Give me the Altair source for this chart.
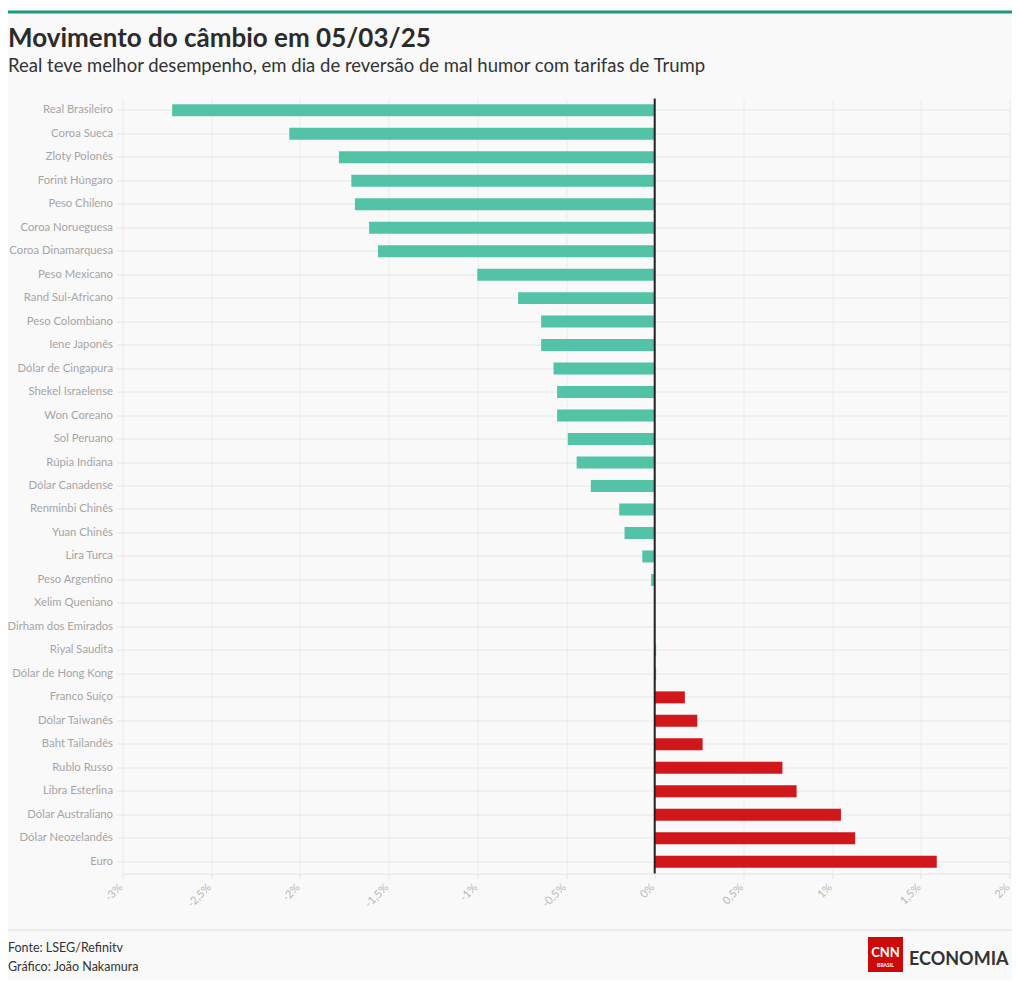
import altair as alt
import pandas as pd

# ---------------- data ----------------
moedas = [
    "Real Brasileiro", "Coroa Sueca", "Zloty Polonês", "Forint Húngaro", "Peso Chileno",
    "Coroa Norueguesa", "Coroa Dinamarquesa", "Peso Mexicano", "Rand Sul-Africano",
    "Peso Colombiano", "Iene Japonês", "Dólar de Cingapura", "Shekel Israelense",
    "Won Coreano", "Sol Peruano", "Rúpia Indiana", "Dólar Canadense", "Renminbi Chinês",
    "Yuan Chinês", "Lira Turca", "Peso Argentino", "Xelim Queniano", "Dirham dos Emirados",
    "Riyal Saudita", "Dólar de Hong Kong", "Franco Suíço", "Dólar Taiwanês",
    "Baht Tailandês", "Rublo Russo", "Libra Esterlina", "Dólar Australiano",
    "Dólar Neozelandês", "Euro",
]
variacao = [
    -2.72, -2.06, -1.78, -1.71, -1.69, -1.61, -1.56, -1.00, -0.77, -0.64, -0.64,
    -0.57, -0.55, -0.55, -0.49, -0.44, -0.36, -0.20, -0.17, -0.07, -0.02, 0.0, 0.0,
    0.008, 0.008, 0.17, 0.24, 0.27, 0.72, 0.80, 1.05, 1.13, 1.59,
]
grupo = ["valorizou"] * 25 + ["desvalorizou"] * 8
x_ticks = [-3, -2.5, -2, -1.5, -1, -0.5, 0, 0.5, 1, 1.5, 2]

titulo = "Movimento do câmbio em 05/03/25"
subtitulo = "Real teve melhor desempenho, em dia de reversão de mal humor com tarifas de Trump"
fonte = "Fonte: LSEG/Refinitv"
grafico = "Gráfico: João Nakamura"

df = pd.DataFrame({"moeda": moedas, "variacao": variacao, "grupo": grupo})

FONT = "Lato"
W, H = 887, 775
PL, PT = 114.5, 90.5   # plot origin relative to svg origin
TOTAL_W, TOTAL_H = 1004, 972

x_enc = alt.X(
    "variacao:Q", title=None,
    scale=alt.Scale(domain=[-3, 2], nice=False, zero=False),
    axis=alt.Axis(
        values=x_ticks, labelAngle=-45, labelAlign="right", labelBaseline="middle",
        labelExpr="(datum.value < 0 ? '-' : '') + replace(format(abs(datum.value), '~g'), '.', ',') + '%'",
        grid=True, gridColor="#ececec", tickColor="#e4e4e4", tickSize=5,
        domainColor="#e4e4e4", labelColor="#b8b8b8", labelFontSize=11, labelFont=FONT,
        labelPadding=7, labelOffset=-2,
    ),
)
y_enc = alt.Y(
    "moeda:N", sort=moedas, title=None,
    scale=alt.Scale(paddingInner=0.49, paddingOuter=0.245),
    axis=alt.Axis(
        labelFont=FONT, labelFontSize=11.3, labelColor="#a5a5a5", labelPadding=4,
        tickSize=6, tickColor="#e6e6e6", domain=False, grid=True, gridColor="#e6e6e6",
        labelLimit=300,
    ),
)

bars = alt.Chart(df).mark_bar().encode(
    x=x_enc, y=y_enc,
    color=alt.Color("grupo:N", scale=alt.Scale(domain=["valorizou", "desvalorizou"],
                                               range=["#52c3a7", "#d0171c"]), legend=None),
)

zero = alt.Chart(pd.DataFrame({"z": [0]})).mark_rule(color="#222222", strokeWidth=2).encode(
    x="z:Q"
)

def ax(v):
    return v - 8 - PL

def ay(v):
    return v - 8 - PT

one = pd.DataFrame({"a": [1]})

top_line = alt.Chart(one).mark_rule(color="#1a9a7c", strokeWidth=3).encode(
    x=alt.value(ax(8)), x2=alt.value(ax(1012)), y=alt.value(ay(12))
)
foot_line = alt.Chart(one).mark_rule(color="#dcdcdc", strokeWidth=1).encode(
    x=alt.value(ax(8)), x2=alt.value(ax(1012)), y=alt.value(ay(930))
)

def txt(s, x, y, size, color="#333333", weight="normal", align="left", font=FONT):
    return alt.Chart(pd.DataFrame({"t": [s]})).mark_text(
        align=align, baseline="alphabetic", fontSize=size, fontWeight=weight,
        color=color, font=font,
    ).encode(text="t:N", x=alt.value(ax(x)), y=alt.value(ay(y)))

t_title = txt(titulo, 8, 47, 26, "#2b2b2b", "bold")
t_sub = txt(subtitulo, 8, 72, 18.5, "#333333")
t_f1 = txt(fonte, 8, 952, 12.5, "#333333")
t_f2 = txt(grafico, 8, 971, 12.5, "#333333")

logo_box = alt.Chart(one).mark_rect(color="#cc0a0a").encode(
    x=alt.value(ax(868)), x2=alt.value(ax(903)), y=alt.value(ay(937)), y2=alt.value(ay(972))
)
t_cnn = txt("CNN", 885.5, 957, 13, "#ffffff", "bold", "center")
t_brasil = txt("BRASIL", 885.5, 967, 5, "#ffffff", "bold", "center")
t_econ = txt("ECONOMIA", 909, 965, 18, "#333333", "bold")

chart = alt.layer(
    bars, zero, top_line, foot_line, t_title, t_sub, t_f1, t_f2,
    logo_box, t_cnn, t_brasil, t_econ,
).properties(
    width=W, height=H,
    autosize=alt.AutoSizeParams(type="none"),
    padding={"left": PL, "top": PT, "right": TOTAL_W - PL - W, "bottom": TOTAL_H - PT - H},
).configure(
    background="#f9f9f9", font=FONT,
).configure_view(stroke=None)

chart.save("out.html", embed_options={"renderer": "svg", "actions": False})
